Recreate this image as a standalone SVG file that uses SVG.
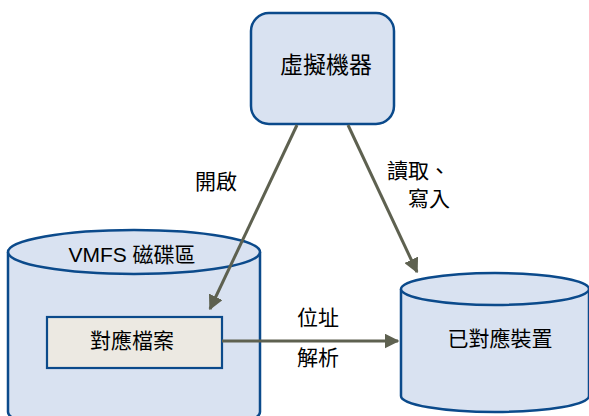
<svg xmlns="http://www.w3.org/2000/svg" width="589" height="416" viewBox="0 0 589 416">
<style>
.node{fill:#d9e2f1;stroke:#0b4a8b;stroke-width:2.5}
.file{fill:#ece9e2;stroke:#0b4a8b;stroke-width:2.2}
.t{font-family:"Liberation Sans","Noto Sans CJK TC",sans-serif;font-size:21px;fill:#000;text-anchor:middle}
.conn{stroke:#5e6150;stroke-width:3;fill:none}
</style>
<defs>
<marker id="ah" viewBox="0 0 10 10" refX="9" refY="5" markerWidth="5" markerHeight="5" markerUnits="strokeWidth" orient="auto">
<path d="M0,0 L10,5 L0,10 z" fill="#5e6150"/>
</marker>
</defs>
<rect width="589" height="416" fill="#fff"/>
<g id="vmfs">
<path class="node" d="M8,252 L8,412 A126,22 0 0 0 260,412 L260,252"/>
<ellipse class="node" cx="134" cy="252" rx="126" ry="22"/>
<text class="t" x="132" y="262">VMFS 磁碟區</text>
</g>
<g id="mapfile">
<rect class="file" x="47" y="317" width="175" height="51"/>
<text class="t" x="132" y="348">對應檔案</text>
</g>
<g id="device">
<path class="node" d="M401,289 L401,396 A94,16 0 0 0 589,396 L589,289"/>
<ellipse class="node" cx="495" cy="289" rx="94" ry="16"/>
<text class="t" x="500" y="346">已對應裝置</text>
</g>
<g id="vm">
<rect class="node" x="251" y="13" width="143" height="111" rx="18"/>
<text class="t" x="326" y="73" style="font-size:23px">虛擬機器</text>
</g>
<g id="connectors">
<line class="conn" x1="297" y1="125" x2="210" y2="309" marker-end="url(#ah)"/>
<line class="conn" x1="348" y1="125" x2="417" y2="272" marker-end="url(#ah)"/>
<line class="conn" x1="222" y1="341" x2="398" y2="341" marker-end="url(#ah)"/>
<text class="t" x="216" y="189">開啟</text>
<text class="t" x="450" y="178" style="text-anchor:end">讀取、</text>
<text class="t" x="450" y="206" style="text-anchor:end">寫入</text>
<text class="t" x="318" y="325">位址</text>
<text class="t" x="318" y="365">解析</text>
</g>
</svg>
